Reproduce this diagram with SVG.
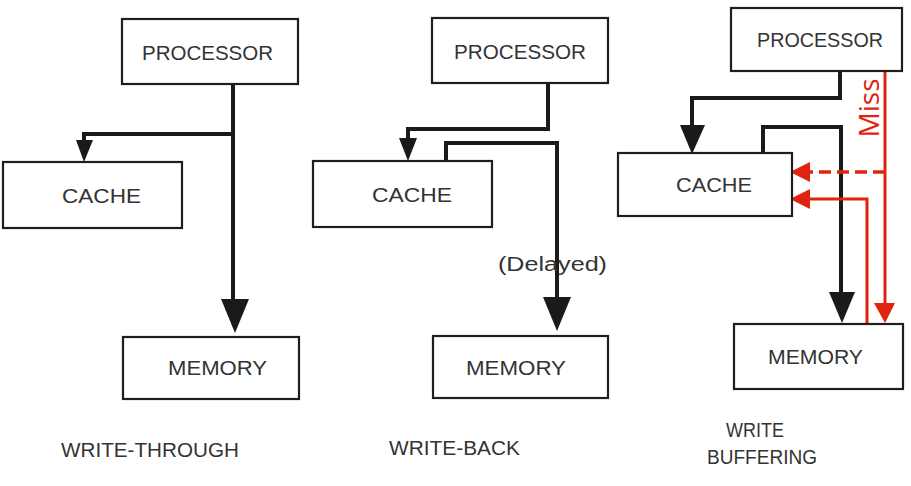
<svg xmlns="http://www.w3.org/2000/svg" width="911" height="486" viewBox="0 0 911 486">
<style>
.box{fill:#fff;stroke:#1e1e1e;stroke-width:2.2}
.lbl{font-family:"Liberation Sans",Arial,sans-serif;font-size:21px;fill:#333;}
.cap{font-family:"Liberation Sans",Arial,sans-serif;font-size:20px;fill:#333;}
.wire{fill:none;stroke:#1a1a1a;stroke-width:4;stroke-linejoin:miter}
.head{fill:#1a1a1a}
.rwire{fill:none;stroke:#e0230f;stroke-width:3}
.rdash{fill:none;stroke:#e0230f;stroke-width:3.5;stroke-dasharray:12 6}
.rhead{fill:#e0230f}
.miss{font-family:"Open Sans","Liberation Sans",sans-serif;font-size:28px;fill:#e0230f}
</style>
<rect width="911" height="486" fill="#fff"/>

<g id="connectors">
  <!-- write-through -->
  <path class="wire" d="M233,84 V300"/>
  <path class="wire" d="M233,134 H84 V142"/>
  <polygon class="head" points="76,140 93,140 84,162"/>
  <polygon class="head" points="221,299 249,299 235,333"/>
  <!-- write-back -->
  <path class="wire" d="M548,83 V129 H408 V140"/>
  <polygon class="head" points="399,138 417,138 408,161"/>
  <path class="wire" d="M446,161 V143 H557 V300"/>
  <polygon class="head" points="543,297 571,297 557,331"/>
  <!-- write buffering -->
  <path class="wire" d="M840,71 V98 H692 V128"/>
  <polygon class="head" points="680,125 705,125 692,154"/>
  <path class="wire" d="M763,153 V127 H841 V295"/>
  <polygon class="head" points="829,292 855,292 842,323"/>
  <path class="rwire" d="M885,71 V305"/>
  <polygon class="rhead" points="874,303 895,303 885,323"/>
  <path class="rdash" d="M885,172 H808"/>
  <polygon class="rhead" points="810,162 810,182 790,172"/>
  <path class="rwire" d="M867,324 V199 H808"/>
  <polygon class="rhead" points="810,189 810,209 790,199"/>
</g>

<g id="p1-processor"><rect class="box" x="122" y="19" width="176" height="65"/><text class="lbl" x="142" y="60" textLength="131" lengthAdjust="spacingAndGlyphs">PROCESSOR</text></g>
<g id="p1-cache"><rect class="box" x="3" y="162" width="179" height="66"/><text class="lbl" x="62" y="203" textLength="79" lengthAdjust="spacingAndGlyphs">CACHE</text></g>
<g id="p1-memory"><rect class="box" x="123" y="337" width="176" height="62"/><text class="lbl" x="168" y="375" textLength="99" lengthAdjust="spacingAndGlyphs">MEMORY</text></g>

<g id="p2-processor"><rect class="box" x="432" y="18" width="176" height="65"/><text class="lbl" x="454" y="59" textLength="132" lengthAdjust="spacingAndGlyphs">PROCESSOR</text></g>
<g id="p2-cache"><rect class="box" x="313" y="161" width="179" height="66"/><text class="lbl" x="372" y="202" textLength="80" lengthAdjust="spacingAndGlyphs">CACHE</text></g>
<g id="p2-memory"><rect class="box" x="433" y="336" width="175" height="62"/><text class="lbl" x="466" y="375" textLength="100" lengthAdjust="spacingAndGlyphs">MEMORY</text></g>

<g id="p3-processor"><rect class="box" x="731" y="8" width="171" height="63"/><text class="lbl" x="757" y="47" textLength="126" lengthAdjust="spacingAndGlyphs">PROCESSOR</text></g>
<g id="p3-cache"><rect class="box" x="618" y="153" width="174" height="63"/><text class="lbl" x="676" y="192" textLength="76" lengthAdjust="spacingAndGlyphs">CACHE</text></g>
<g id="p3-memory"><rect class="box" x="734" y="324" width="169" height="65"/><text class="lbl" x="768" y="364" textLength="95" lengthAdjust="spacingAndGlyphs">MEMORY</text></g>

<g id="labels">
  <text class="cap" x="498" y="271" textLength="109" lengthAdjust="spacingAndGlyphs">(Delayed)</text>
  <text class="cap" x="61" y="457" textLength="178" lengthAdjust="spacingAndGlyphs">WRITE-THROUGH</text>
  <text class="cap" x="389" y="455" textLength="131" lengthAdjust="spacingAndGlyphs">WRITE-BACK</text>
  <text class="cap" x="726" y="437" textLength="58" lengthAdjust="spacingAndGlyphs">WRITE</text>
  <text class="cap" x="707" y="464" textLength="110" lengthAdjust="spacingAndGlyphs">BUFFERING</text>
  <text class="miss" transform="translate(879,108) rotate(-90)" text-anchor="middle" textLength="59" lengthAdjust="spacingAndGlyphs">Miss</text>
</g>
</svg>
